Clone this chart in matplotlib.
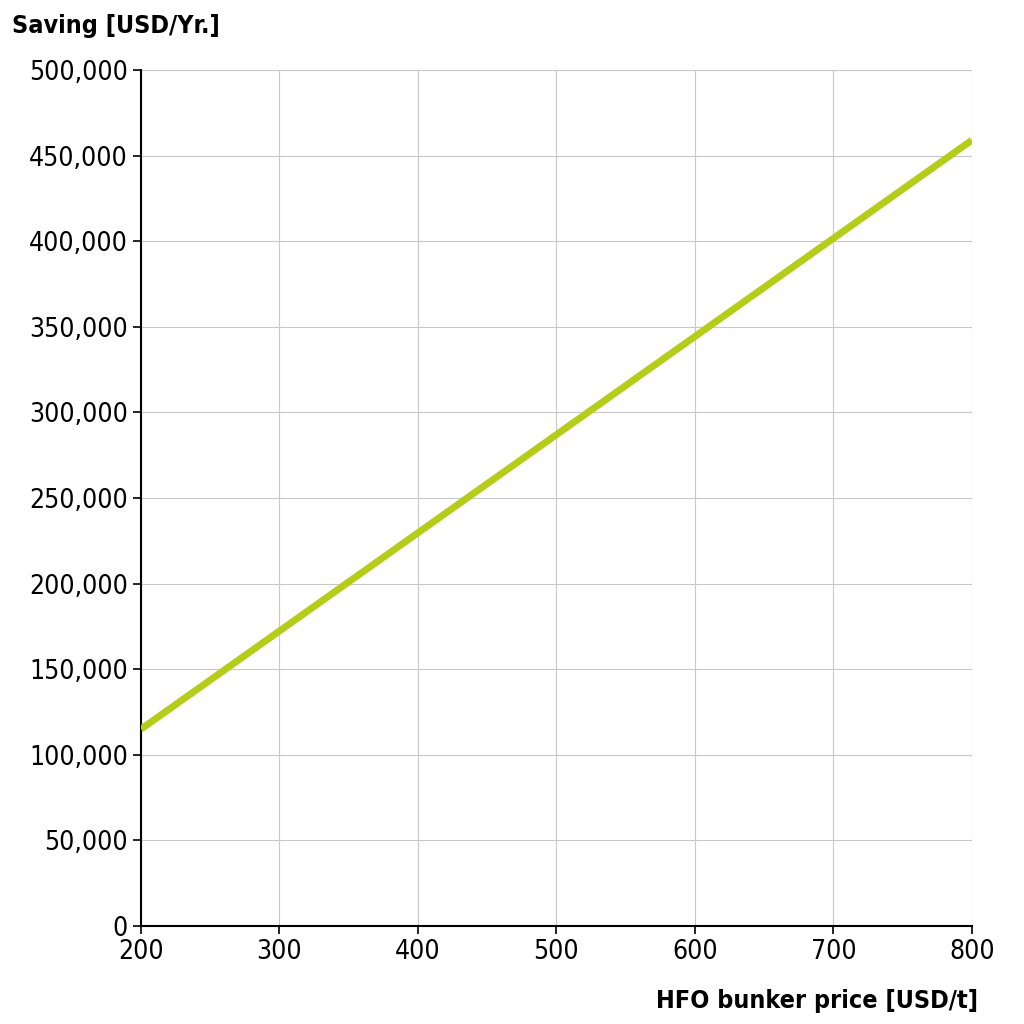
import matplotlib
matplotlib.use("Agg")
import matplotlib.pyplot as plt
from matplotlib.ticker import FuncFormatter

plt.rcParams['font.family'] = ['DejaVu Sans']
plt.rcParams['font.stretch'] = 'condensed'

price = [200, 800]
saving = [115000, 459000]
xticks = [200, 300, 400, 500, 600, 700, 800]
yticks = list(range(0, 500001, 50000))

fig = plt.figure(figsize=(10.24, 10.24), dpi=100)
ax = fig.add_axes([0.1377, 0.0957, 0.8113, 0.8359])
ax.plot(price, saving, color='#b5cc18', lw=5, solid_capstyle='butt', zorder=3)
ax.set_xlim(200, 800)
ax.set_ylim(0, 500000)
ax.set_xticks(xticks)
ax.set_yticks(yticks)
ax.yaxis.set_major_formatter(FuncFormatter(lambda v, p: f"{int(v):,}"))
ax.grid(True, color='#c8c8c8', lw=0.8)
for s in ['top', 'right']:
    ax.spines[s].set_visible(False)
for s in ['left', 'bottom']:
    ax.spines[s].set_linewidth(1.5)
ax.tick_params(labelsize=19, length=6, width=1.2, direction='out')
fig.text(0.012, 0.975, 'Saving [USD/Yr.]', fontsize=18, fontweight='bold', va='center', ha='left')
fig.text(0.955, 0.022, 'HFO bunker price [USD/t]', fontsize=18, fontweight='bold', va='center', ha='right')
fig.savefig('out.png', dpi=100, facecolor='white')
